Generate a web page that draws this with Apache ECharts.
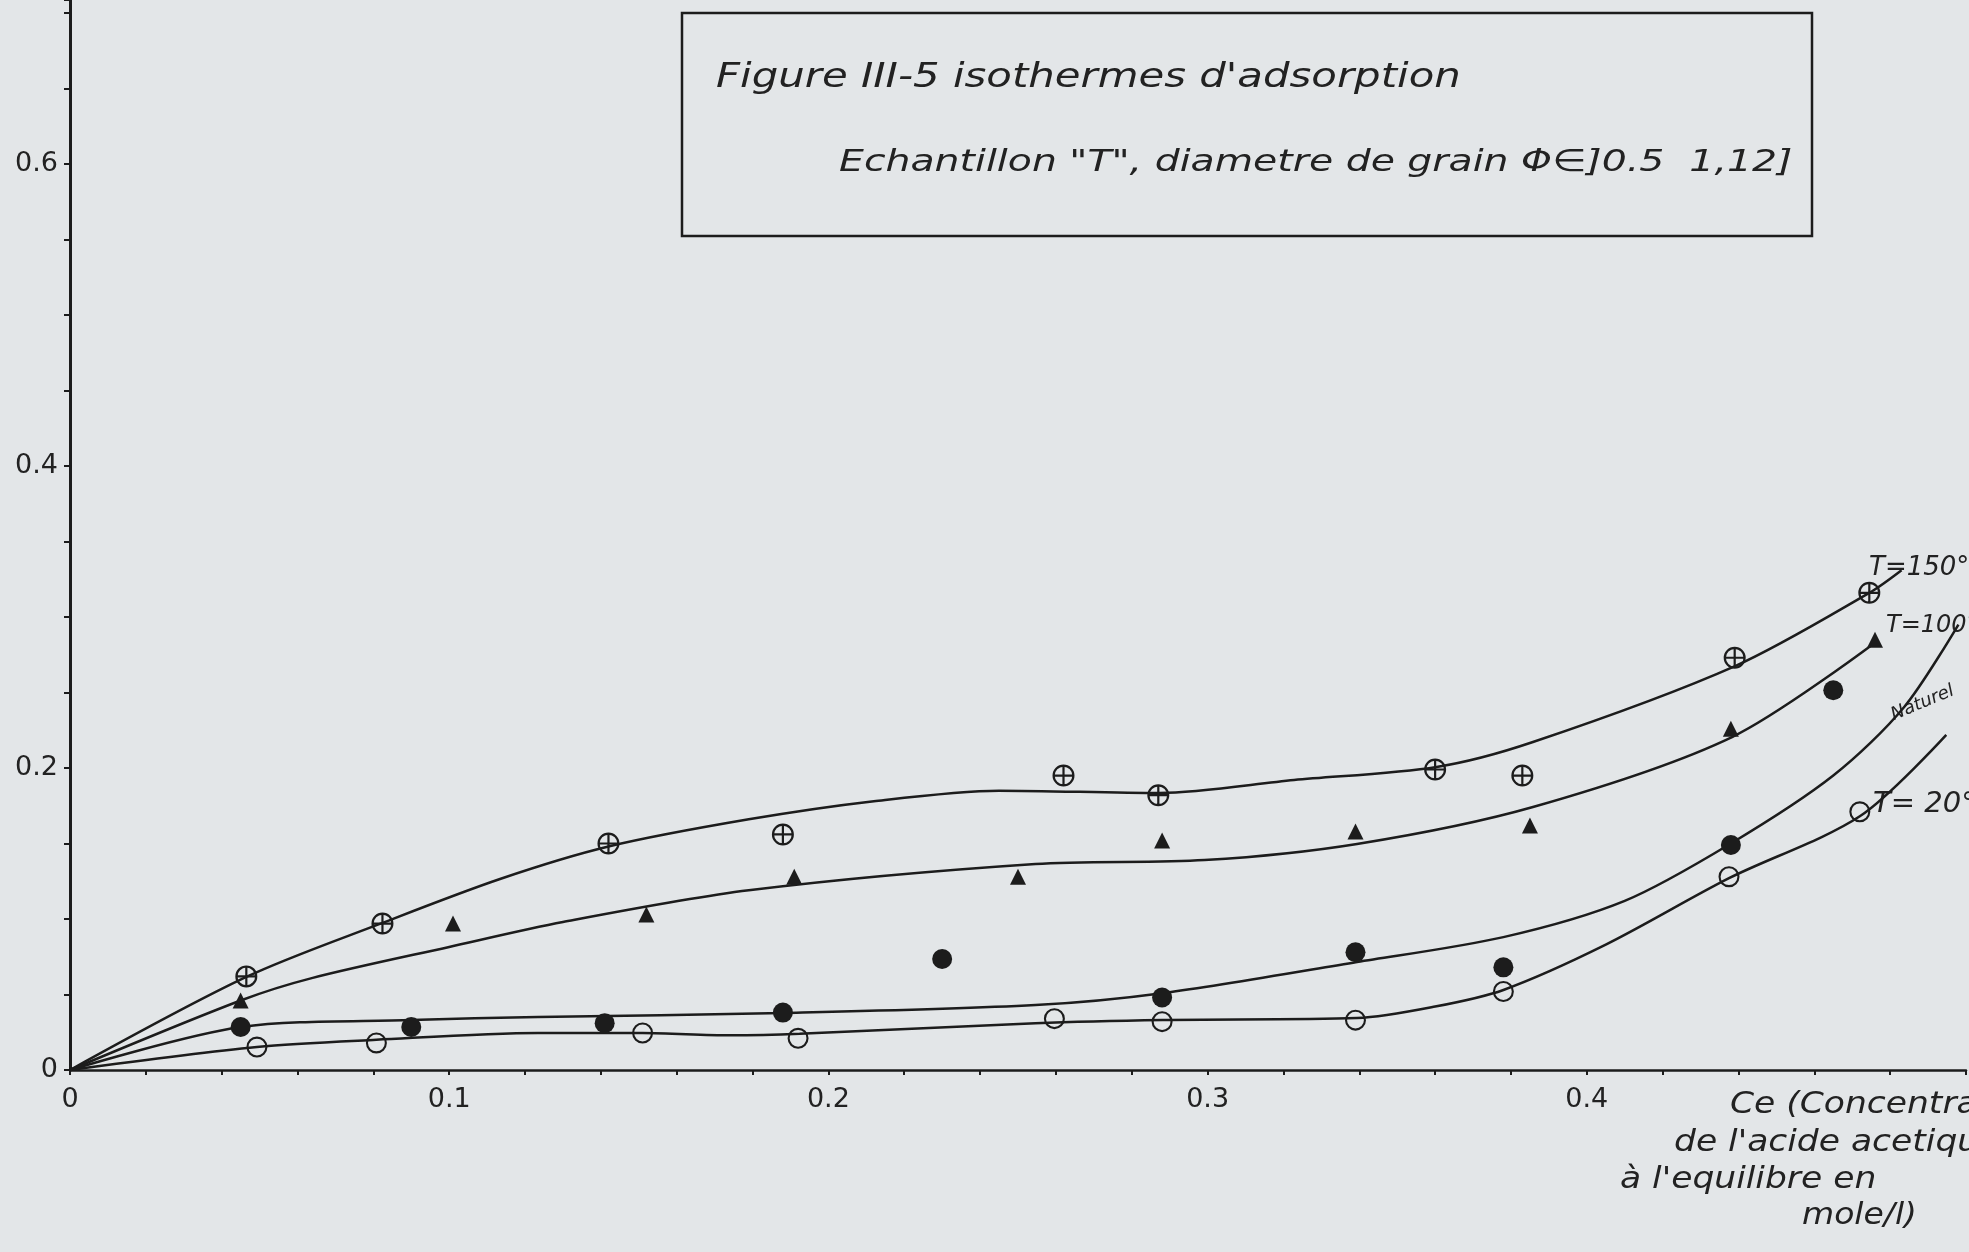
<!DOCTYPE html>
<html>
<head>
<meta charset="utf-8">
<script src="https://cdn.jsdelivr.net/npm/echarts@6/dist/echarts.min.js"></script>
<style>
html, body { margin: 0; padding: 0; background: #e3e6e8; }
#chart { width: 1969px; height: 1252px; }
</style>
</head>
<body>
<div id="chart"></div>
<script>
var t150Pts = [[0.0465, 0.062], [0.0824, 0.097], [0.142, 0.150], [0.188, 0.156], [0.262, 0.195],
    [0.287, 0.182], [0.360, 0.199], [0.383, 0.195], [0.439, 0.273], [0.4745, 0.316]];
var t100Pts = [[0.045, 0.046], [0.101, 0.097], [0.152, 0.103], [0.191, 0.128], [0.250, 0.128],
    [0.288, 0.152], [0.339, 0.158], [0.385, 0.162], [0.438, 0.226], [0.476, 0.285]];
var naturelPts = [[0.045, 0.0285], [0.090, 0.0285], [0.141, 0.031], [0.188, 0.038], [0.230, 0.0735],
    [0.288, 0.048], [0.339, 0.078], [0.378, 0.068], [0.438, 0.149], [0.465, 0.2515]];
var t20Pts = [[0.0493, 0.0152], [0.0808, 0.0179], [0.151, 0.0245], [0.192, 0.021], [0.2596, 0.034],
    [0.288, 0.032], [0.339, 0.033], [0.378, 0.052], [0.4375, 0.128], [0.472, 0.171]];

// hand drawn curves
var t150Curve = [[0, 0], [0.0465, 0.0616], [0.0824, 0.0974], [0.1134, 0.1265], [0.142, 0.148],
    [0.179, 0.166], [0.212, 0.178], [0.245, 0.185], [0.2874, 0.1834], [0.3228, 0.192],
    [0.3604, 0.2007], [0.3858, 0.2172], [0.4391, 0.2675], [0.4745, 0.316], [0.483, 0.331]];
var t100Curve = [[0, 0], [0.045, 0.046], [0.064, 0.061], [0.100, 0.0815], [0.130, 0.098],
    [0.179, 0.119], [0.2546, 0.1364], [0.2992, 0.139], [0.3394, 0.1497], [0.3858, 0.1742],
    [0.4383, 0.2205], [0.4759, 0.2828]];
var naturelCurve = [[0, 0], [0.0451, 0.0285], [0.09, 0.0331], [0.1234, 0.0351], [0.188, 0.0377],
    [0.2546, 0.043], [0.2885, 0.051], [0.3394, 0.0715], [0.378, 0.088], [0.41, 0.112],
    [0.438, 0.150], [0.465, 0.195], [0.4837, 0.2404], [0.498, 0.295]];
var t20Curve = [[0, 0], [0.0493, 0.0152], [0.0808, 0.020], [0.1234, 0.0245], [0.151, 0.0245],
    [0.174, 0.023], [0.1924, 0.024], [0.2546, 0.031], [0.2882, 0.0331], [0.3394, 0.0344],
    [0.360, 0.042], [0.378, 0.053], [0.405, 0.083], [0.4375, 0.127], [0.472, 0.168], [0.4948, 0.2219]];

var xLabels = ['0', '0.1', '0.2', '0.3', '0.4'];
var yLabels = ['0', '0.2', '0.4', '0.6'];

var ink = '#1c1c1c';
var ring = 'M0,-10A10,10,0,1,1,0,10A10,10,0,1,1,0,-10ZM0,-8A8,8,0,1,0,0,8A8,8,0,1,0,0,-8Z';
var ringPlus = ring + 'M-8,-1L8,-1L8,1L-8,1ZM-1,-8L1,-8L1,8L-1,8Z';
var hand = '"DejaVu Sans"';

function curve(name, data) {
    return {
        name: name, type: 'line', data: data, smooth: 0.3, showSymbol: false, symbol: 'none',
        lineStyle: { color: ink, width: 2.5 }, z: 2, silent: true
    };
}
function pts(name, data, symbol, size) {
    return {
        name: name, type: 'scatter', data: data, symbol: symbol, symbolSize: size,
        itemStyle: { color: ink, opacity: 1 }, z: 3
    };
}
function note(txt, x, y, size, extra) {
    var el = {
        type: 'text', x: x, y: y,
        style: { text: txt, font: 'italic ' + size + 'px ' + hand, fill: '#222', verticalAlign: 'middle' }
    };
    for (var k in extra) el[k] = extra[k];
    return el;
}

var myChart = echarts.init(document.getElementById('chart'));
var option = {
    backgroundColor: '#e3e6e8',
    animation: false,
    grid: { left: 70, right: 0, top: 0, bottom: 182 },
    xAxis: {
        type: 'value', min: 0, max: 0.5, interval: 0.02,
        splitLine: { show: false },
        axisLine: { lineStyle: { color: ink, width: 2.5 } },
        axisTick: { length: 5, lineStyle: { color: ink, width: 2 } },
        axisLabel: {
            margin: 16, color: '#222', fontSize: 27, fontFamily: hand,
            formatter: function (v) {
                var r = Math.round(v * 100);
                if (r % 10 === 0 && r / 10 < xLabels.length) return xLabels[r / 10];
                return '';
            }
        }
    },
    yAxis: {
        type: 'value', min: 0, max: 0.7086, interval: 0.05,
        splitLine: { show: false },
        axisLine: { lineStyle: { color: ink, width: 3 } },
        axisTick: { length: 6, lineStyle: { color: ink, width: 2 } },
        axisLabel: {
            margin: 12, color: '#222', fontSize: 27, fontFamily: hand,
            formatter: function (v) {
                var r = Math.round(v * 100);
                if (r % 20 === 0 && r / 20 < yLabels.length) return yLabels[r / 20];
                return '';
            }
        }
    },
    series: [
        curve('c150', t150Curve),
        curve('c100', t100Curve),
        curve('cnat', naturelCurve),
        curve('c20', t20Curve),
        pts('T=150°C', t150Pts, 'path://' + ringPlus, 22),
        pts('T=100°C', t100Pts, 'triangle', 16),
        pts('Naturel', naturelPts, 'circle', 20),
        pts('T=20°C', t20Pts, 'path://' + ring, 21)
    ],
    graphic: [
        {
            type: 'rect', shape: { x: 682, y: 13, width: 1130, height: 223 },
            style: { fill: 'none', stroke: ink, lineWidth: 2.5 }
        },
        note("Figure III-5 isothermes d'adsorption", 716, 78, 34, { scaleX: 1.23 }),
        note('Echantillon "T", diametre de grain Φ∈]0.5  1,12]', 839, 163, 31, { scaleX: 1.27 }),
        note('T=150°C', 1869, 568, 26, {}),
        note('T=100°C', 1886, 626, 24, {}),
        note('Naturel', 1892, 716, 18, { rotation: 0.4 }),
        note('T= 20°C', 1873, 804, 29, {}),
        note('Ce (Concentration', 1730, 1105, 30, { scaleX: 1.15 }),
        note("de l'acide acetique", 1674, 1143, 30, { scaleX: 1.15 }),
        note("à l'equilibre en", 1620, 1180, 30, { scaleX: 1.15 }),
        note('mole/l)', 1802, 1216, 30, { scaleX: 1.1 })
    ]
};

myChart.setOption(option);
</script>
</body>
</html>
